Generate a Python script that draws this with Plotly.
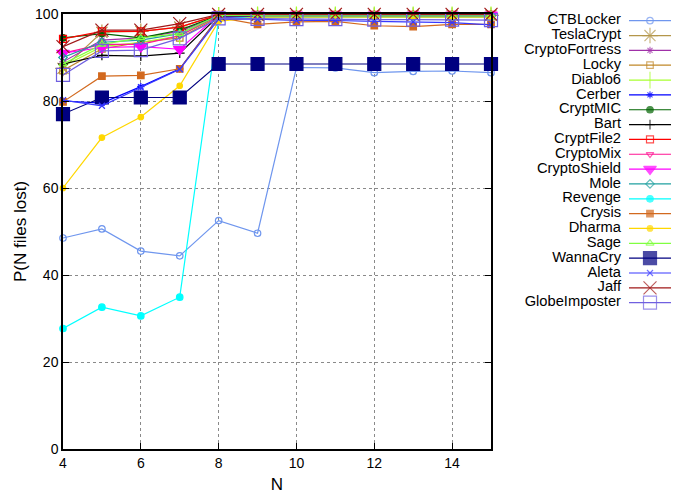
import plotly.graph_objects as go

N = [4, 5, 6, 7, 8, 9, 10, 11, 12, 13, 14, 15]

names = ["CTBLocker", "TeslaCrypt", "CryptoFortress", "Locky", "Diablo6", "Cerber",
         "CryptMIC", "Bart", "CryptFile2", "CryptoMix", "CryptoShield", "Mole",
         "Revenge", "Crysis", "Dharma", "Sage", "WannaCry", "Aleta", "Jaff",
         "GlobeImposter"]

ctblocker      = [48.5, 50.6, 45.5, 44.4, 52.5, 49.6, 87.7, 87.6, 86.5, 86.8, 86.9, 86.5]
teslacrypt     = [87.5, 95.8, 96.0, 97.0, 99.8, 99.7, 99.7, 99.7, 99.7, 99.7, 99.7, 99.7]
cryptofortress = [89.0, 94.0, 94.5, 96.0, 99.6, 99.6, 99.6, 99.6, 99.6, 99.6, 99.6, 99.6]
locky          = [87.0, 92.0, 93.5, 94.5, 99.4, 99.5, 99.5, 99.5, 99.5, 99.5, 99.5, 99.5]
diablo6        = [88.0, 92.5, 93.5, 95.0, 99.6, 99.8, 99.8, 99.8, 99.8, 99.8, 99.8, 99.8]
cerber         = [80.0, 79.5, 83.3, 87.4, 99.3, 99.4, 99.4, 99.4, 99.4, 99.4, 99.4, 99.4]
cryptmic       = [94.5, 95.5, 94.5, 96.3, 99.7, 99.7, 99.7, 99.7, 99.7, 99.7, 99.7, 99.7]
bart           = [88.5, 90.5, 90.3, 91.0, 99.5, 99.6, 99.6, 99.6, 99.6, 99.6, 99.6, 99.6]
cryptfile2     = [94.3, 96.0, 96.0, 97.0, 99.8, 99.8, 99.8, 99.8, 99.8, 99.8, 99.8, 99.8]
cryptomix      = [91.0, 93.0, 93.0, 95.0, 99.6, 99.7, 99.7, 99.7, 99.7, 99.7, 99.7, 99.7]
cryptoshield   = [91.0, 92.3, 92.5, 91.9, 99.8, 99.8, 99.8, 99.8, 99.8, 99.8, 99.8, 99.8]
mole           = [90.0, 93.5, 94.0, 95.5, 99.6, 99.6, 99.6, 99.6, 99.6, 99.6, 99.6, 99.6]
revenge        = [27.7, 32.6, 30.6, 34.9, 98.8, 99.3, 99.3, 99.3, 99.3, 99.3, 99.3, 99.3]
crysis         = [79.8, 85.7, 85.9, 87.4, 99.2, 97.6, 98.2, 98.3, 97.3, 97.1, 97.6, 97.6]
dharma         = [60.0, 71.6, 76.3, 83.5, 98.3, 99.3, 99.3, 99.3, 99.3, 99.3, 99.3, 99.3]
sage           = [88.5, 93.0, 94.5, 95.5, 99.7, 99.8, 99.8, 99.8, 99.8, 99.8, 99.8, 99.8]
wannacry       = [77.0, 80.8, 80.8, 80.8, 88.5, 88.5, 88.5, 88.5, 88.5, 88.5, 88.5, 88.5]
aleta          = [80.2, 78.9, 83.1, 87.3, 98.8, 98.8, 98.5, 98.5, 98.3, 98.2, 98.0, 97.5]
jaff           = [92.5, 96.3, 96.3, 97.8, 99.9, 99.9, 99.9, 99.9, 99.9, 99.9, 99.9, 99.9]
globeimposter  = [86.0, 91.5, 91.7, 94.4, 99.0, 98.9, 98.8, 98.8, 98.7, 98.7, 98.7, 98.6]

series = [ctblocker, teslacrypt, cryptofortress, locky, diablo6, cerber, cryptmic,
          bart, cryptfile2, cryptomix, cryptoshield, mole, revenge, crysis, dharma,
          sage, wannacry, aleta, jaff, globeimposter]

colors = ["#6f96ee", "#b4964a", "#a030a8", "#c08828", "#a8ff30", "#0000ff",
          "#006400", "#000000", "#ff0000", "#ff1493", "#ff00ff", "#20a0a0",
          "#00ffff", "#d2691e", "#ffd700", "#80ff40", "#000080", "#3838ff",
          "#a01818", "#7060e0"]

symbols = ["circle-open", "asterisk-open", "asterisk-open", "square-open",
           "line-ns-open", "asterisk-open", "circle", "cross-thin-open",
           "square-open", "triangle-down-open", "triangle-down", "diamond-open",
           "circle", "square", "circle", "triangle-up-open", "square",
           "x-thin-open", "x-thin-open", "square-open"]

sizes = [6.5, 13, 6, 6.5, 12, 6, 6.5, 7, 7, 6.5, 11, 6.5, 6.5, 6.5, 5.5, 7, 13, 6, 13, 13]

FONT = "Liberation Sans, Arial, sans-serif"

fig = go.Figure()

for name, ys, c, s, sz in zip(names, series, colors, symbols, sizes):
    fig.add_trace(go.Scatter(
        x=N, y=ys, name=name, mode="lines+markers",
        line=dict(color=c, width=1.2),
        marker=dict(symbol=s, size=sz, color=c, line=dict(color=c, width=1.2)),
        cliponaxis=False, showlegend=False, xaxis="x", yaxis="y"))

# legend drawn on an auxiliary hidden axis (gnuplot-style: text then sample)
for i, (name, c, s, sz) in enumerate(zip(names, colors, symbols, sizes)):
    fig.add_trace(go.Scatter(
        x=[629, 650, 671], y=[i, i, i], mode="lines+markers",
        line=dict(color=c, width=1.2),
        marker=dict(symbol=s, size=[0, sz, 0], color=c, line=dict(color=c, width=1.2)),
        cliponaxis=False, showlegend=False, hoverinfo="skip",
        xaxis="x2", yaxis="y2"))
    fig.add_trace(go.Scatter(
        x=[621], y=[i], mode="text", text=[name], textposition="middle left",
        textfont=dict(family=FONT, size=14.7, color="#000000"),
        cliponaxis=False, showlegend=False, hoverinfo="skip",
        xaxis="x2", yaxis="y2"))

W, H = 699, 494
L, R, T, B = 63, 0, 14, 45
plot_w = W - L - R
split = (491 - L) / plot_w
row0 = 20.7
rowstep = 14.84
plot_h = H - T - B
top_val = -(row0 - T) / rowstep
bot_val = top_val + plot_h / rowstep

fig.update_layout(
    width=W, height=H,
    margin=dict(l=L, r=R, t=T, b=B, autoexpand=False),
    paper_bgcolor="white", plot_bgcolor="white",
    font=dict(family=FONT, size=14, color="#000000"),
    showlegend=False,
    xaxis=dict(domain=[0, split], range=[4, 15], tickvals=[4, 6, 8, 10, 12, 14],
               showgrid=True, gridcolor="#8a8a8a", griddash="dot", gridwidth=1,
               zeroline=False, showline=True, linecolor="#000000", linewidth=1.5,
               mirror="ticks", ticks="inside", ticklen=6, tickcolor="#000000",
               title=dict(text="N", standoff=14),
               tickfont=dict(size=14)),
    yaxis=dict(range=[0, 100], tickvals=[0, 20, 40, 60, 80, 100],
               showgrid=True, gridcolor="#8a8a8a", griddash="dot", gridwidth=1,
               zeroline=False, showline=True, linecolor="#000000", linewidth=1.5,
               mirror="ticks", ticks="inside", ticklen=6, tickcolor="#000000",
               title=dict(text="P(N files lost)", standoff=4),
               tickfont=dict(size=14)),
    xaxis2=dict(domain=[split, 1], range=[491, 699], visible=False, anchor="y2"),
    yaxis2=dict(domain=[0, 1], range=[bot_val, top_val], visible=False, anchor="x2"),
)

fig.write_html("out.html", config={"displayModeBar": False},
               post_script="document.body.style.margin='0px';")
